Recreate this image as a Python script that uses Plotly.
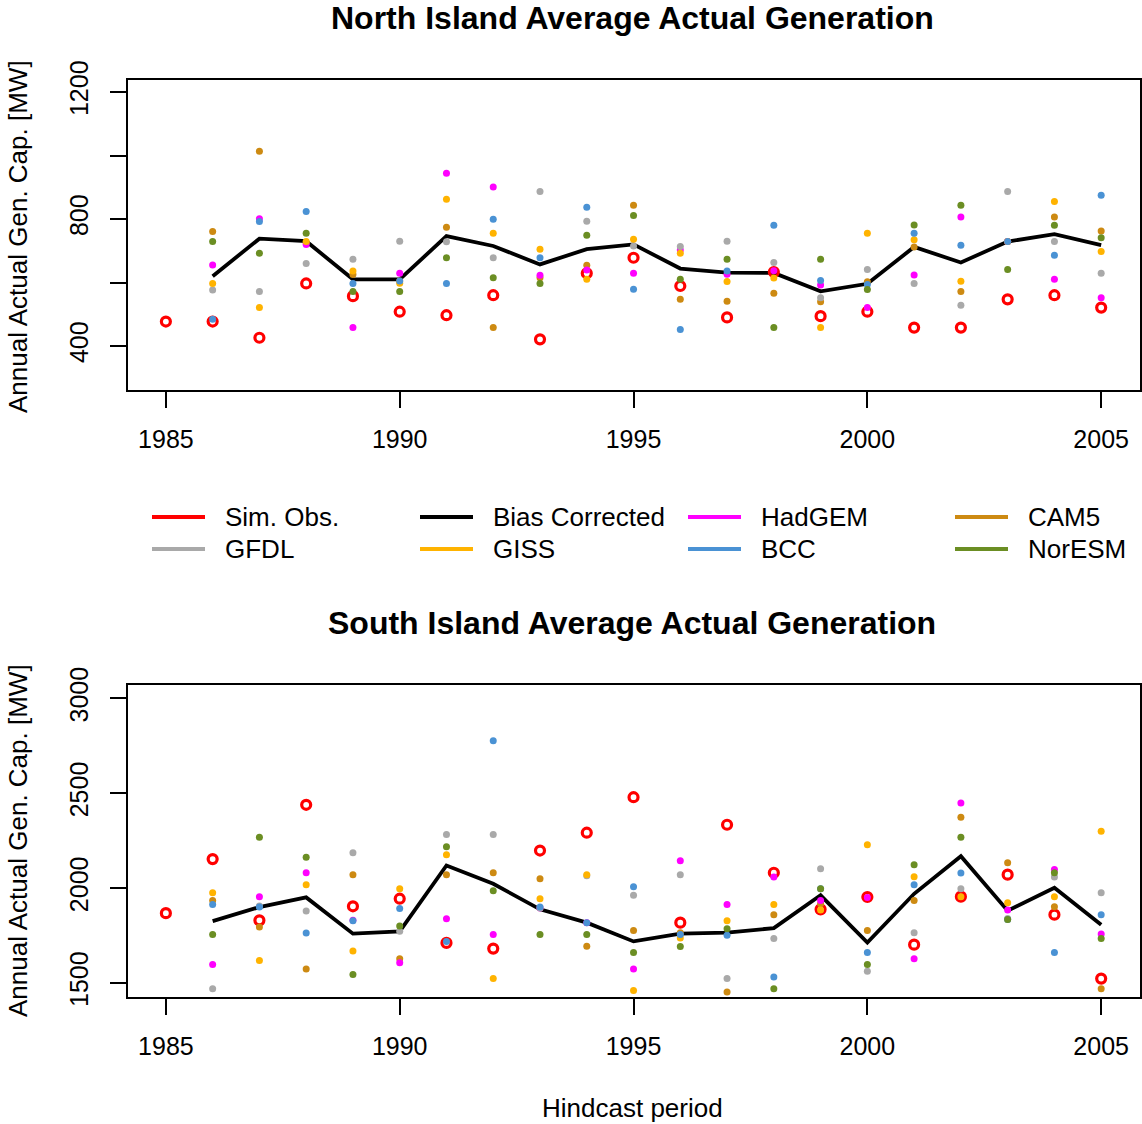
import plotly.graph_objects as go

# ---- data -------------------------------------------------------------
years = list(range(1985, 2006))
model_years = list(range(1986, 2006))

series_names = ["Sim. Obs.", "Bias Corrected", "HadGEM", "CAM5",
                "GFDL", "GISS", "BCC", "NorESM"]
series_colors = {
    "Sim. Obs.": "#FF0000",
    "Bias Corrected": "#000000",
    "HadGEM": "#FF00FF",
    "CAM5": "#CD8A12",
    "GFDL": "#A9A9A9",
    "GISS": "#FFB300",
    "BCC": "#4A92D4",
    "NorESM": "#6B8E23",
}

# North Island (MW)
sim_obs_n = [477, 477, 426, 597, 557, 508, 497, 560, 421, 629, 678,
             589, 490, 633, 494, 508, 458, 458, 547, 560, 521]
bias_n = [620, 738, 730, 610, 610, 746, 715, 657, 705, 720,
          644, 631, 630, 572, 596, 712, 663, 729, 752, 718]
hadgem_n = [655, 801, 720, 458, 629, 944, 901, 623, 639, 629,
            702, 626, 637, 592, 521, 624, 806, 729, 610, 552]
cam5_n = [761, 1013, 725, 625, 605, 774, 458, 615, 654, 843,
          547, 541, 566, 539, 602, 712, 572, 729, 806, 762]
gfdl_n = [576, 572, 660, 673, 730, 728, 678, 887, 793, 715,
          713, 730, 663, 552, 641, 597, 528, 887, 729, 629]
giss_n = [597, 521, 729, 636, 598, 862, 755, 705, 610, 736,
          692, 603, 614, 458, 755, 735, 604, 729, 855, 698]
bcc_n = [484, 792, 824, 597, 605, 597, 799, 678, 837, 579,
         452, 636, 780, 606, 594, 755, 717, 729, 686, 875]
noresm_n = [729, 692, 755, 572, 572, 678, 615, 597, 749, 811,
            610, 673, 458, 673, 578, 781, 843, 641, 780, 741]

# South Island (MW)
sim_obs_s = [1868, 2153, 1830, 2439, 1904, 1944, 1711, 1681, 2198, 2292, 2479,
             1818, 2334, 2081, 1888, 1953, 1702, 1955, 2071, 1860, 1523]
bias_s = [1826, 1900, 1951, 1760, 1772, 2119, 2023, 1888, 1818, 1719,
          1760, 1765, 1789, 1962, 1713, 1970, 2168, 1881, 2002, 1807]
hadgem_s = [1597, 1955, 2081, 1830, 1607, 1839, 1755, 1895, 1818, 1574,
            2144, 1913, 2058, 1935, 1950, 1628, 2449, 1885, 2098, 1758]
cam5_s = [1935, 1795, 1574, 2071, 1628, 2071, 2081, 2049, 1693, 1776,
          1765, 1453, 1860, 1918, 1776, 1934, 2374, 2134, 1902, 1470]
gfdl_s = [1470, 1905, 1879, 2186, 1772, 2283, 2283, 1895, 2065, 1962,
          2071, 1523, 1734, 2102, 1562, 1765, 1997, 1840, 2058, 1976]
giss_s = [1976, 1618, 2018, 1668, 1997, 2176, 1523, 1944, 2071, 1460,
          1737, 1828, 1913, 1885, 2228, 2060, 1955, 1923, 1955, 2300]
bcc_s = [1913, 1900, 1763, 1828, 1892, 1719, 2776, 1900, 1818, 2007,
         1755, 1751, 1532, 1997, 1660, 2018, 2079, 1834, 1660, 1860]
noresm_s = [1755, 2268, 2163, 1544, 1800, 2218, 1986, 1755, 1755, 1660,
            1692, 1786, 1470, 1997, 1597, 2123, 2268, 1834, 2081, 1734]

x_ticks = [1985, 1990, 1995, 2000, 2005]
n_y_ticks = [400, 600, 800, 1000, 1200]
n_y_labels = ["400", "", "800", "", "1200"]
s_y_ticks = [1500, 2000, 2500, 3000]
s_y_labels = ["1500", "2000", "2500", "3000"]

titles = ["North Island Average Actual Generation",
          "South Island Average Actual Generation"]
y_title = "Annual Actual Gen. Cap. [MW]"
x_title = "Hindcast period"

# ---- figure -----------------------------------------------------------
W, H = 1142, 1124
FONT = "Liberation Sans, Arial, sans-serif"


def px(x):
    return x / W


def py(y):
    return 1 - y / H


fig = go.Figure()

panels = [
    ("x", "y", sim_obs_n, bias_n,
     {"HadGEM": hadgem_n, "CAM5": cam5_n, "GFDL": gfdl_n, "GISS": giss_n,
      "BCC": bcc_n, "NorESM": noresm_n}),
    ("x2", "y2", sim_obs_s, bias_s,
     {"HadGEM": hadgem_s, "CAM5": cam5_s, "GFDL": gfdl_s, "GISS": giss_s,
      "BCC": bcc_s, "NorESM": noresm_s}),
]

draw_order = ["CAM5", "HadGEM", "GFDL", "GISS", "BCC", "NorESM"]

for xa, ya, obs, bias, models in panels:
    fig.add_trace(go.Scatter(
        x=model_years, y=bias, mode="lines", xaxis=xa, yaxis=ya,
        line=dict(color=series_colors["Bias Corrected"], width=3.8),
        showlegend=False, name="Bias Corrected"))
    fig.add_trace(go.Scatter(
        x=years, y=obs, mode="markers", xaxis=xa, yaxis=ya,
        marker=dict(symbol="circle-open", size=9,
                    color=series_colors["Sim. Obs."],
                    line=dict(color=series_colors["Sim. Obs."], width=3.2)),
        cliponaxis=False, showlegend=False, name="Sim. Obs."))
    for name in draw_order:
        fig.add_trace(go.Scatter(
            x=model_years, y=models[name], mode="markers",
            xaxis=xa, yaxis=ya,
            marker=dict(size=7, color=series_colors[name]),
            cliponaxis=False, showlegend=False, name=name))

axis_common = dict(
    showline=True, linecolor="black", linewidth=1.5, mirror=True,
    ticks="outside", ticklen=16, tickwidth=1.5, tickcolor="black",
    showgrid=False, zeroline=False, automargin=False,
    tickfont=dict(family=FONT, size=25, color="black"),
)

x_dom = [px(128), px(1140)]
x_rng = [1984.19, 2005.83]

fig.update_layout(
    width=W, height=H,
    margin=dict(l=0, r=0, t=0, b=0),
    paper_bgcolor="white", plot_bgcolor="white",
    showlegend=False,
    xaxis=dict(domain=x_dom, range=x_rng, anchor="y",
               tickvals=x_ticks, ticklabelstandoff=10, **axis_common),
    yaxis=dict(domain=[py(390), py(80)], range=[261.4, 1237.8], anchor="x",
               tickvals=n_y_ticks, ticktext=n_y_labels, tickangle=-90,
               ticklabelstandoff=12, **axis_common),
    xaxis2=dict(domain=x_dom, range=x_rng, anchor="y2",
                tickvals=x_ticks, ticklabelstandoff=10, **axis_common),
    yaxis2=dict(domain=[py(997), py(685)], range=[1426, 3070.5], anchor="x2",
                tickvals=s_y_ticks, ticktext=s_y_labels, tickangle=-90,
                ticklabelstandoff=12, **axis_common),
)

annotations = []
# panel titles
for title, yc in zip(titles, [18, 623]):
    annotations.append(dict(
        text="<b>%s</b>" % title, x=px(632), y=py(yc), xref="paper",
        yref="paper", xanchor="center", yanchor="middle", showarrow=False,
        font=dict(family=FONT, size=32, color="black")))
# y-axis titles
for yc in [237, 841]:
    annotations.append(dict(
        text=y_title, x=px(18), y=py(yc), xref="paper", yref="paper",
        xanchor="center", yanchor="middle", textangle=-90, showarrow=False,
        font=dict(family=FONT, size=26, color="black")))
# x-axis title
annotations.append(dict(
    text=x_title, x=px(632), y=py(1108), xref="paper", yref="paper",
    xanchor="center", yanchor="middle", showarrow=False,
    font=dict(family=FONT, size=26, color="black")))

# legend: 2 rows x 4 columns, line keys
shapes = []
col_line_x = [152, 420, 688, 955]
key_len = 53
row_y = [517, 549]
for i, name in enumerate(series_names):
    r, c = divmod(i, 4)
    x0 = col_line_x[c]
    shapes.append(dict(
        type="line", xref="paper", yref="paper",
        x0=px(x0), x1=px(x0 + key_len), y0=py(row_y[r]), y1=py(row_y[r]),
        line=dict(color=series_colors[name], width=4)))
    annotations.append(dict(
        text=name, x=px(x0 + key_len + 18), y=py(row_y[r]), xref="paper",
        yref="paper", xanchor="left", yanchor="middle", showarrow=False,
        font=dict(family=FONT, size=26, color="black")))

fig.update_layout(annotations=annotations, shapes=shapes)

fig.write_html("out.html")
